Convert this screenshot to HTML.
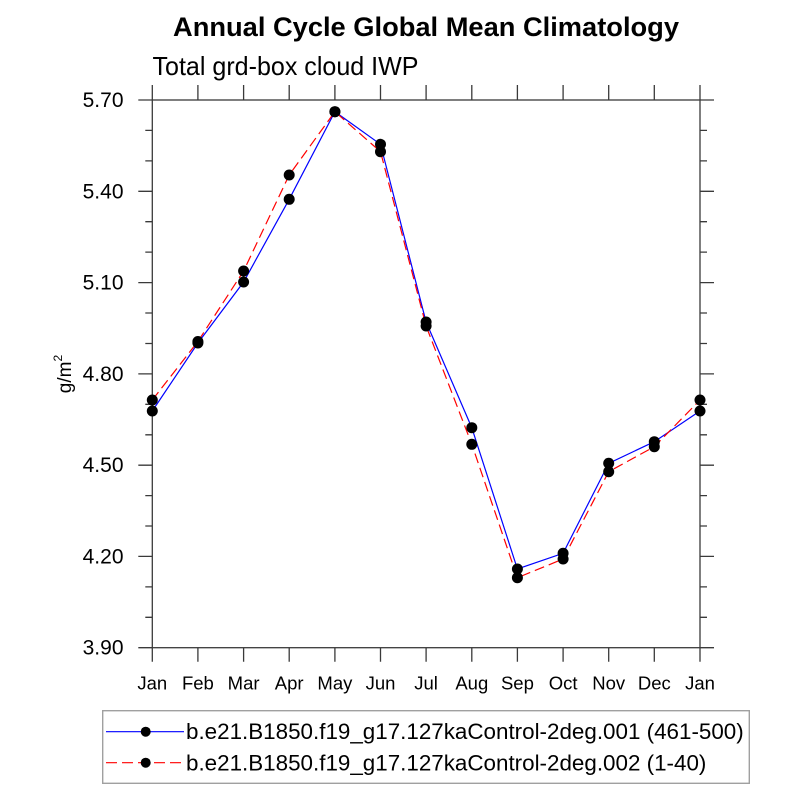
<!DOCTYPE html>
<html>
<head>
<meta charset="utf-8">
<style>
html,body{margin:0;padding:0;background:#fff;}
svg{display:block;}
text{font-family:"Liberation Sans",Arial,sans-serif;fill:#000;}
</style>
</head>
<body>
<svg width="800" height="800" viewBox="0 0 800 800" xmlns="http://www.w3.org/2000/svg">
<rect x="0" y="0" width="800" height="800" fill="#fff"/>

<!-- Titles -->
<text x="173" y="36" font-size="27" font-weight="bold" textLength="506" lengthAdjust="spacingAndGlyphs">Annual Cycle Global Mean Climatology</text>
<text x="152.5" y="75" font-size="26" textLength="266" lengthAdjust="spacingAndGlyphs">Total grd-box cloud IWP</text>

<!-- Y axis label -->
<text transform="translate(71,374) rotate(-90)" text-anchor="middle" font-size="19">g/m<tspan font-size="12" dy="-9">2</tspan></text>

<!-- Frame and ticks -->
<g stroke="#3a3a3a" stroke-width="1.3" fill="none">
<rect x="152.3" y="100" width="547.7" height="547.7"/>
<path d="M152.3 647.7v14 M197.9 647.7v14 M243.6 647.7v14 M289.2 647.7v14 M334.9 647.7v14 M380.5 647.7v14 M426.1 647.7v14 M471.8 647.7v14 M517.4 647.7v14 M563.1 647.7v14 M608.7 647.7v14 M654.3 647.7v14 M700 647.7v14"/>
<path d="M152.3 100v-15 M197.9 100v-15 M243.6 100v-15 M289.2 100v-15 M334.9 100v-15 M380.5 100v-15 M426.1 100v-15 M471.8 100v-15 M517.4 100v-15 M563.1 100v-15 M608.7 100v-15 M654.3 100v-15 M700 100v-15"/>
<path d="M152.3 100h-14 M152.3 191.3h-14 M152.3 282.6h-14 M152.3 373.9h-14 M152.3 465.2h-14 M152.3 556.4h-14 M152.3 647.7h-14"/>
<path d="M700 100h14 M700 191.3h14 M700 282.6h14 M700 373.9h14 M700 465.2h14 M700 556.4h14 M700 647.7h14"/>
<path d="M152.3 130.4h-7 M152.3 160.9h-7 M152.3 221.7h-7 M152.3 252.1h-7 M152.3 313h-7 M152.3 343.5h-7 M152.3 404.3h-7 M152.3 434.8h-7 M152.3 495.6h-7 M152.3 526h-7 M152.3 586.9h-7 M152.3 617.3h-7"/>
<path d="M700 130.4h7 M700 160.9h7 M700 221.7h7 M700 252.1h7 M700 313h7 M700 343.5h7 M700 404.3h7 M700 434.8h7 M700 495.6h7 M700 526h7 M700 586.9h7 M700 617.3h7"/>
</g>

<!-- Y tick labels -->
<g font-size="21" text-anchor="end">
<text x="123.5" y="107">5.70</text>
<text x="123.5" y="198.3">5.40</text>
<text x="123.5" y="289.6">5.10</text>
<text x="123.5" y="380.9">4.80</text>
<text x="123.5" y="472.2">4.50</text>
<text x="123.5" y="563.4">4.20</text>
<text x="123.5" y="654.7">3.90</text>
</g>

<!-- X tick labels -->
<g font-size="18.5" text-anchor="middle">
<text x="152.3" y="689.5">Jan</text>
<text x="197.9" y="689.5">Feb</text>
<text x="243.6" y="689.5">Mar</text>
<text x="289.2" y="689.5">Apr</text>
<text x="334.9" y="689.5">May</text>
<text x="380.5" y="689.5">Jun</text>
<text x="426.1" y="689.5">Jul</text>
<text x="471.8" y="689.5">Aug</text>
<text x="517.4" y="689.5">Sep</text>
<text x="563.1" y="689.5">Oct</text>
<text x="608.7" y="689.5">Nov</text>
<text x="654.3" y="689.5">Dec</text>
<text x="700" y="689.5">Jan</text>
</g>

<!-- Series lines -->
<polyline fill="none" stroke="#0000ff" stroke-width="1.2"
 points="152.3,411 197.9,343 243.6,282 289.2,199.3 334.9,111.7 380.5,144.3 426.1,322 471.8,427.7 517.4,569 563.1,553.3 608.7,463.3 654.3,441.7 700,411"/>
<polyline fill="none" stroke="#ff0000" stroke-width="1.2" stroke-dasharray="10 5"
 points="152.3,400 197.9,341.5 243.6,271 289.2,175 334.9,111.7 380.5,151.7 426.1,326 471.8,444.3 517.4,577.7 563.1,559 608.7,471.7 654.3,446.7 700,400"/>

<!-- Markers -->
<g fill="#000">
<circle cx="152.3" cy="411" r="5.5"/><circle cx="197.9" cy="343" r="5.5"/><circle cx="243.6" cy="282" r="5.5"/><circle cx="289.2" cy="199.3" r="5.5"/><circle cx="334.9" cy="111.7" r="5.5"/><circle cx="380.5" cy="144.3" r="5.5"/><circle cx="426.1" cy="322" r="5.5"/><circle cx="471.8" cy="427.7" r="5.5"/><circle cx="517.4" cy="569" r="5.5"/><circle cx="563.1" cy="553.3" r="5.5"/><circle cx="608.7" cy="463.3" r="5.5"/><circle cx="654.3" cy="441.7" r="5.5"/><circle cx="700" cy="411" r="5.5"/>
<circle cx="152.3" cy="400" r="5.5"/><circle cx="197.9" cy="341.5" r="5.5"/><circle cx="243.6" cy="271" r="5.5"/><circle cx="289.2" cy="175" r="5.5"/><circle cx="334.9" cy="111.7" r="5.5"/><circle cx="380.5" cy="151.7" r="5.5"/><circle cx="426.1" cy="326" r="5.5"/><circle cx="471.8" cy="444.3" r="5.5"/><circle cx="517.4" cy="577.7" r="5.5"/><circle cx="563.1" cy="559" r="5.5"/><circle cx="608.7" cy="471.7" r="5.5"/><circle cx="654.3" cy="446.7" r="5.5"/><circle cx="700" cy="400" r="5.5"/>
</g>

<!-- Legend -->
<rect x="102.7" y="710.7" width="646.6" height="72.6" fill="#fff" stroke="#a0a0a0" stroke-width="1.4"/>
<line x1="106" y1="731.7" x2="184" y2="731.7" stroke="#0000ff" stroke-width="1.2"/>
<circle cx="145.7" cy="731.7" r="5" fill="#000"/>
<line x1="106" y1="762.7" x2="184" y2="762.7" stroke="#ff0000" stroke-width="1.2" stroke-dasharray="11 5"/>
<circle cx="145.7" cy="762.7" r="5" fill="#000"/>
<text x="186" y="739" font-size="22.4">b.e21.B1850.f19_g17.127kaControl-2deg.001 (461-500)</text>
<text x="186" y="770.5" font-size="22.4">b.e21.B1850.f19_g17.127kaControl-2deg.002 (1-40)</text>
</svg>
</body>
</html>
